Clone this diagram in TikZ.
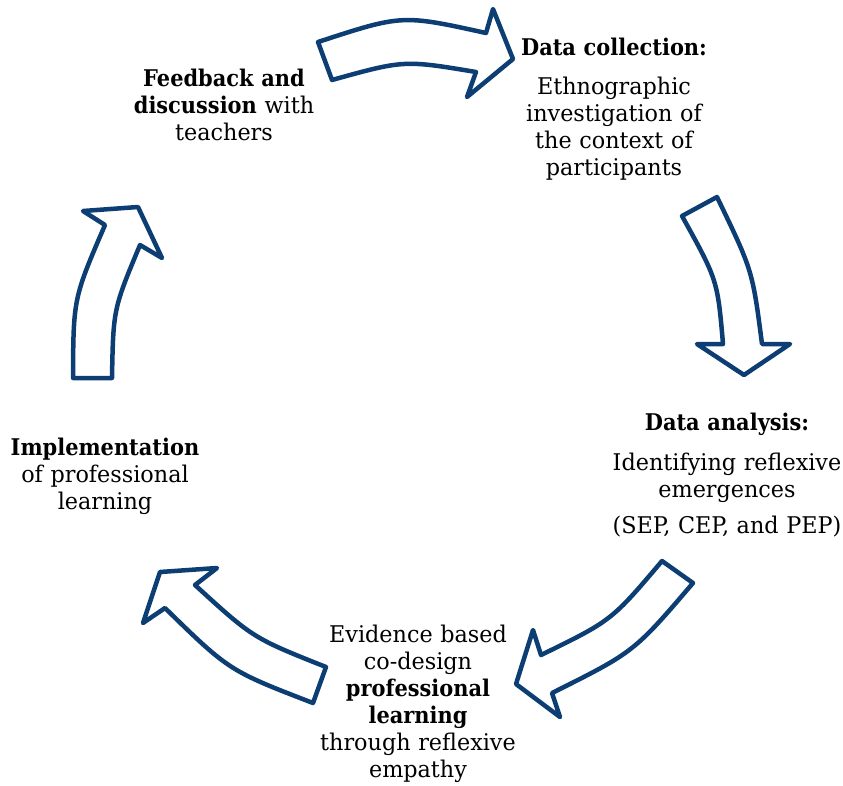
\documentclass[tikz,border=0pt]{standalone}
\usepackage{fontspec}
\setmainfont{DejaVu Serif}[FakeStretch=0.97,BoldFeatures={FakeStretch=0.91}]
\definecolor{cyclblue}{RGB}{12,62,116}
\begin{document}
\begin{tikzpicture}[x=1pt,y=-1pt,
  cyclarrow/.style={draw=cyclblue,line width=4.5pt,line join=round,fill=white},
  lbl/.style={anchor=base,align=center,text width=260pt,inner sep=0pt,
    font=\fontsize{23}{27}\selectfont}]
\useasboundingbox (0,0) rectangle (843,785);

% top arrow: feedback -> data collection
\draw[cyclarrow] (318,42) .. controls (402,14.5) .. (486,33)
  -- (493,9) -- (513,59) -- (467,97) -- (476,72)
  .. controls (404,60) .. (332,80) -- cycle;

% right arrow: data collection -> data analysis
\draw[cyclarrow] (717,197) .. controls (752.5,270.5) .. (762,344)
  -- (790,344) -- (744,375) -- (697,344) -- (723,344)
  .. controls (717.5,280) .. (682,216) -- cycle;

% lower right arrow: data analysis -> co-design
\draw[cyclarrow] (693,583) .. controls (634,652) .. (552,693)
  -- (560,717) -- (516,684) -- (533,630) -- (541,655)
  .. controls (611.5,620.6) .. (662,561) -- cycle;

% lower left arrow: co-design -> implementation
\draw[cyclarrow] (326,667) .. controls (253,638) .. (195,585)
  -- (217,568) -- (160,572) -- (143,623) -- (165,608)
  .. controls (229.2,670.7) .. (313,703) -- cycle;

% left arrow: implementation -> feedback
\draw[cyclarrow] (73,378) .. controls (73.4,298.3) .. (105,225)
  -- (83,211) -- (138,207) -- (162,258) -- (140,245)
  .. controls (113.3,309) .. (112,378) -- cycle;

% stage labels
\node[lbl] (feedback) at (224,86) {\textbf{Feedback and}\\ \textbf{discussion} with\\ teachers};
\node[lbl] (collect) at (614,55) {\textbf{Data collection:}\\[12pt] Ethnographic\\ investigation of\\ the context of\\ participants};
\node[lbl] (analysis) at (727,430) {\textbf{Data analysis:}\\[13pt] Identifying reflexive\\ emergences\\[9pt] (SEP, CEP, and PEP)};
\node[lbl] (codesign) at (418,642) {Evidence based\\ co-design\\ \textbf{professional}\\ \textbf{learning}\\ through reflexive\\ empathy};
\node[lbl] (implement) at (105,455) {\textbf{Implementation}\\ of professional\\ learning};
\end{tikzpicture}
\end{document}
